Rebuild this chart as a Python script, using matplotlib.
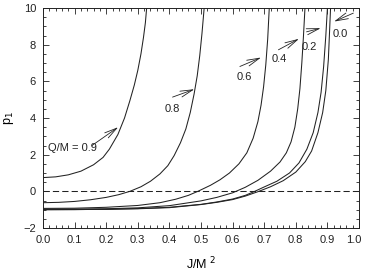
import numpy as np
import matplotlib
matplotlib.use("Agg")
import matplotlib.pyplot as plt
import matplotlib.transforms as mtransforms
from matplotlib.ticker import MultipleLocator

plt.rcParams['font.family'] = ['Liberation Sans', 'DejaVu Sans']

# values (J/M^2, p1) for each Q/M
j_09 = [0.0, 0.04, 0.08, 0.12, 0.16, 0.19, 0.21, 0.237, 0.258, 0.275, 0.289, 0.30, 0.31, 0.318, 0.324, 0.328]
p_09 = [0.75, 0.79, 0.90, 1.10, 1.45, 1.85, 2.30, 3.10, 4.00, 4.95, 5.80, 6.60, 7.50, 8.40, 9.20, 10.0]

j_08 = [0.0, 0.05, 0.10, 0.15, 0.20, 0.24, 0.275, 0.31, 0.34, 0.37, 0.395, 0.415, 0.435, 0.452, 0.466, 0.478, 0.488, 0.496, 0.503, 0.510]
p_08 = [-0.62, -0.60, -0.55, -0.46, -0.33, -0.18, 0.0, 0.25, 0.55, 0.95, 1.40, 1.95, 2.65, 3.40, 4.30, 5.30, 6.30, 7.40, 8.60, 10.0]

j_06 = [0.0, 0.10, 0.20, 0.30, 0.37, 0.42, 0.46, 0.49, 0.53, 0.56, 0.59, 0.62, 0.645, 0.665, 0.68, 0.69, 0.698, 0.705, 0.711, 0.716]
p_06 = [-0.93, -0.92, -0.87, -0.77, -0.62, -0.43, -0.22, 0.0, 0.33, 0.63, 1.00, 1.50, 2.10, 2.90, 3.80, 4.70, 5.70, 6.90, 8.30, 10.0]

j_04 = [0.0, 0.10, 0.20, 0.30, 0.40, 0.50, 0.55, 0.60, 0.64, 0.68, 0.72, 0.75, 0.77, 0.785, 0.797, 0.806, 0.813, 0.819, 0.824, 0.829]
p_04 = [-0.97, -0.965, -0.95, -0.90, -0.78, -0.52, -0.33, -0.08, 0.22, 0.60, 1.10, 1.60, 2.10, 2.70, 3.50, 4.50, 5.60, 7.00, 8.40, 10.0]

j_02 = [0.0, 0.10, 0.20, 0.30, 0.40, 0.50, 0.55, 0.60, 0.64, 0.67, 0.70, 0.74, 0.78, 0.81, 0.835, 0.855, 0.87, 0.88, 0.888, 0.895, 0.90]
p_02 = [-1.00, -0.995, -0.98, -0.94, -0.87, -0.71, -0.58, -0.42, -0.22, 0.0, 0.24, 0.55, 1.00, 1.55, 2.30, 3.20, 4.30, 5.40, 6.80, 8.50, 10.0]

j_00 = [0.0, 0.10, 0.20, 0.30, 0.40, 0.50, 0.55, 0.60, 0.64, 0.68, 0.72, 0.76, 0.80, 0.83, 0.85, 0.87, 0.885, 0.895, 0.903, 0.91]
p_00 = [-1.00, -0.995, -0.98, -0.95, -0.89, -0.72, -0.60, -0.45, -0.26, -0.02, 0.25, 0.58, 1.05, 1.62, 2.20, 3.20, 4.30, 5.50, 7.20, 10.0]

curves = [(j_09, p_09), (j_08, p_08), (j_06, p_06), (j_04, p_04), (j_02, p_02), (j_00, p_00)]

# labels: text, text position, arrow tail, arrow head
labels = ["Q/M = 0.9", "0.8", "0.6", "0.4", "0.2", "0.0"]
label_xy = [(0.016, 2.35), (0.41, 4.5), (0.637, 6.25), (0.747, 7.2), (0.842, 7.9), (0.941, 8.6)]
tails = [(0.155, 2.5), (0.41, 5.14), (0.623, 6.81), (0.745, 7.72), (0.834, 8.7), (0.982, 9.72)]
heads = [(0.238, 3.5), (0.479, 5.57), (0.69, 7.3), (0.81, 8.32), (0.879, 8.9), (0.921, 9.26)]

fig = plt.figure(figsize=(3.65, 2.73), dpi=100)
ax = fig.add_axes([0.1178, 0.1648, 0.8658, 0.8059])

for j, p in curves:
    ax.plot(j, p, color='#222222', lw=0.75)

ax.axhline(0, color='#222222', lw=0.75, dashes=(6, 3))

for i, lab in enumerate(labels):
    ha = 'left' if i == 0 else 'center'
    ax.text(label_xy[i][0], label_xy[i][1], lab, fontsize=8, ha=ha, va='center', color='#222222')
    ax.annotate('', xy=heads[i], xytext=tails[i],
                arrowprops=dict(arrowstyle='->,head_length=0.9,head_width=0.22',
                                color='#222222', lw=0.6, shrinkA=0, shrinkB=0))

ax.set_xlim(0, 1)
ax.set_ylim(-2, 10)
ax.xaxis.set_major_locator(MultipleLocator(0.1))
ax.xaxis.set_minor_locator(MultipleLocator(0.02))
ax.yaxis.set_major_locator(MultipleLocator(2))
ax.yaxis.set_minor_locator(MultipleLocator(0.5))
ax.set_xticks(ax.get_xticks())
ax.set_xticklabels([f"{v:.1f}" for v in ax.get_xticks()])
ax.set_xlim(0, 1)
ax.tick_params(which='both', direction='in', top=True, right=True, labelsize=8, colors='#222222', width=0.6)
ax.tick_params(which='major', length=4, pad=5)
ax.tick_params(which='minor', length=2)
for s in ax.spines.values():
    s.set_linewidth(0.7)
    s.set_color('#222222')

ax.set_xlabel('J/M $^2$', fontsize=9, labelpad=8)
ax.set_ylabel('p$_1$', fontsize=9, labelpad=5)

# keep the last x tick label inside the picture
fig.canvas.draw()
for t in ax.xaxis.get_major_ticks():
    if abs(t.get_loc() - 1.0) < 1e-9:
        t.label1.set_horizontalalignment('right')
        t.label1.set_transform(t.label1.get_transform() +
                               mtransforms.ScaledTranslation(2 / 100, 0, fig.dpi_scale_trans))

fig.savefig('out.png', dpi=100)
